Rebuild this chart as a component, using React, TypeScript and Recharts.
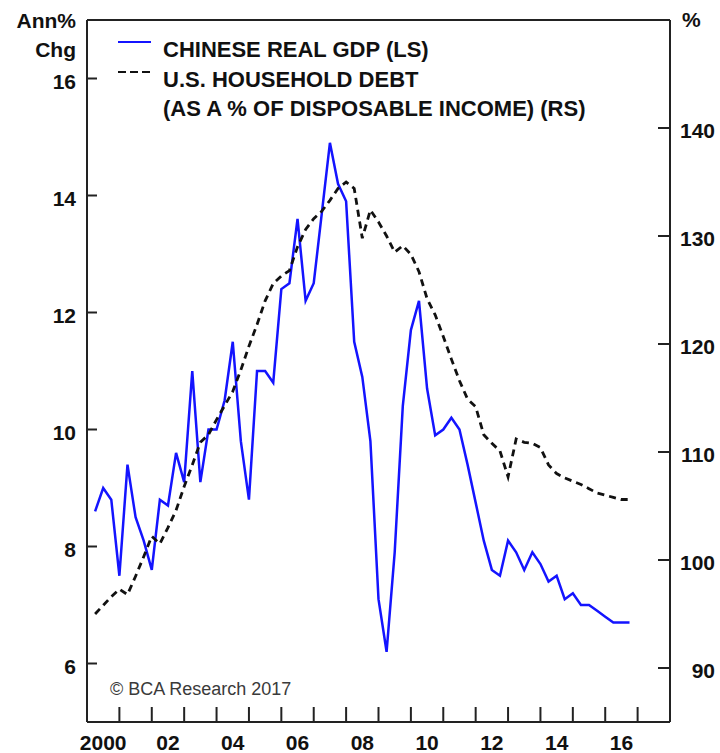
import { Line, LineChart, ReferenceLine, XAxis, YAxis } from "recharts";

// quarterly points, first one plotted at end of 2000Q1
const FIRST_QUARTER = 2000.25;
const QUARTER = 0.25;

// Chinese real GDP, annual % change (left scale)
const chineseGdp = [
  8.6, 9.0, 8.8, 7.5, 9.4, 8.5, 8.1, 7.6, 8.8, 8.7, 9.6, 9.1, 11.0, 9.1, 10.0, 10.0,
  10.5, 11.5, 9.8, 8.8, 11.0, 11.0, 10.8, 12.4, 12.5, 13.6, 12.2, 12.5, 13.7, 14.9, 14.2, 13.9,
  11.5, 10.9, 9.8, 7.1, 6.2, 7.9, 10.4, 11.7, 12.2, 10.7, 9.9, 10.0, 10.2, 10.0, 9.4, 8.75,
  8.1, 7.6, 7.5, 8.1, 7.9, 7.6, 7.9, 7.7, 7.4, 7.5, 7.1, 7.2, 7.0, 7.0, 6.9, 6.8,
  6.7, 6.7, 6.7,
];

// U.S. household debt as % of disposable income (right scale)
const usHouseholdDebt = [
  95.0, 95.8, 96.6, 97.3, 96.8, 98.5, 100.3, 102.2, 101.5, 103.0, 104.6, 106.8, 108.8, 110.9, 111.6, 113.0,
  114.3, 115.6, 117.6, 119.8, 121.8, 124.0, 125.6, 126.3, 126.8, 129.0, 130.6, 131.6, 132.3, 133.3, 134.4, 135.0,
  134.4, 129.8, 132.4, 131.3, 130.0, 128.5, 129.1, 128.3, 126.7, 124.2, 122.7, 120.7, 118.6, 116.6, 114.9, 114.2,
  111.6, 110.8, 110.1, 107.7, 111.2, 110.9, 110.8, 110.4, 108.8, 108.0, 107.6, 107.3, 107.0, 106.6, 106.2, 106.0,
  105.8, 105.6, 105.6,
];

const tickYears = [2001, 2002, 2003, 2004, 2005, 2006, 2007, 2008, 2009, 2010, 2011, 2012, 2013, 2014, 2015, 2016, 2017];
const labelYears = [2000, 2002, 2004, 2006, 2008, 2010, 2012, 2014, 2016];
const yearLabels = ["2000", "02", "04", "06", "08", "10", "12", "14", "16"];
const leftTicks = [6, 8, 10, 12, 14, 16];
const rightTicks = [90, 100, 110, 120, 130, 140];

const data = chineseGdp.map((gdp, i) => ({
  t: FIRST_QUARTER + i * QUARTER,
  gdp,
  debt: usHouseholdDebt[i],
}));

const xTicks = [...tickYears, ...labelYears.map((y) => y + 0.5)].sort((a, b) => a - b);

const FONT = "'Liberation Sans', Arial, sans-serif";
const INK = "#111";
const FRAME = "#222";
const BLUE = "#1414ff";

function XTick({ x, y, payload }: any) {
  const v = payload.value;
  if (Number.isInteger(v)) {
    return <line x1={x} x2={x} y1={y} y2={y - 15} stroke={FRAME} strokeWidth={2} />;
  }
  const i = labelYears.indexOf(v - 0.5);
  return (
    <text x={x} y={y + 28} textAnchor="middle" fontFamily={FONT} fontSize={21} fontWeight="bold" fill={INK}>
      {yearLabels[i]}
    </text>
  );
}

function LeftTick({ x, y, payload }: any) {
  return (
    <g>
      <line x1={x} x2={x + 10} y1={y} y2={y} stroke={FRAME} strokeWidth={2} />
      <text x={x - 11} y={y + 10} textAnchor="end" fontFamily={FONT} fontSize={21} fontWeight="bold" fill={INK}>
        {payload.value}
      </text>
    </g>
  );
}

function RightTick({ x, y, payload }: any) {
  return (
    <g>
      <line x1={x - 12} x2={x} y1={y} y2={y} stroke={FRAME} strokeWidth={2} />
      <text x={x + 45} y={y + 10} textAnchor="end" fontFamily={FONT} fontSize={21} fontWeight="bold" fill={INK}>
        {payload.value}
      </text>
    </g>
  );
}

export default function App() {
  const axisLine = { stroke: FRAME, strokeWidth: 2 };
  return (
    <div style={{ position: "absolute", left: 0, top: 0, width: 720, height: 753, background: "#fff" }}>
      <LineChart width={720} height={753} data={data} margin={{ top: 20, right: 0, bottom: 0, left: 0 }}>
        <XAxis
          dataKey="t"
          type="number"
          domain={[2000, 2018]}
          ticks={xTicks}
          interval={0}
          allowDataOverflow
          height={31}
          tickSize={0}
          tickMargin={0}
          axisLine={axisLine}
          tick={<XTick />}
        />
        <YAxis
          yAxisId="left"
          orientation="left"
          domain={[5, 17]}
          ticks={leftTicks}
          interval={0}
          width={87}
          tickSize={0}
          tickMargin={0}
          axisLine={axisLine}
          tick={<LeftTick />}
        />
        <YAxis
          yAxisId="right"
          orientation="right"
          domain={[85, 150]}
          ticks={rightTicks}
          interval={0}
          width={50}
          tickSize={0}
          tickMargin={0}
          axisLine={axisLine}
          tick={<RightTick />}
        />
        <ReferenceLine yAxisId="left" y={17} stroke={FRAME} strokeWidth={2} />
        <Line
          yAxisId="left"
          type="linear"
          dataKey="gdp"
          stroke={BLUE}
          strokeWidth={2.5}
          dot={false}
          isAnimationActive={false}
        />
        <Line
          yAxisId="right"
          type="linear"
          dataKey="debt"
          stroke="#111"
          strokeWidth={2.8}
          strokeDasharray="7 5"
          dot={false}
          isAnimationActive={false}
        />
      </LineChart>
      <svg
        width={720}
        height={753}
        style={{ position: "absolute", left: 0, top: 0, pointerEvents: "none" }}
        fontFamily={FONT}
        fontWeight="bold"
        fill={INK}
      >
        <text x={76} y={28} textAnchor="end" fontSize={21}>Ann%</text>
        <text x={76} y={57} textAnchor="end" fontSize={21}>Chg</text>
        <text x={682} y={27} fontSize={21}>%</text>
        <line x1={118} x2={151} y1={42} y2={42} stroke={BLUE} strokeWidth={2} />
        <line x1={118} x2={151} y1={72} y2={72} stroke="#111" strokeWidth={2} strokeDasharray="8 4" />
        <text x={163} y={57} fontSize={22}>CHINESE REAL GDP (LS)</text>
        <text x={163} y={87} fontSize={22}>U.S. HOUSEHOLD DEBT</text>
        <text x={163} y={116} fontSize={22}>(AS A % OF DISPOSABLE INCOME) (RS)</text>
        <text x={110} y={695} fontSize={18} fontWeight="normal" fill="#3a3a3a">© BCA Research 2017</text>
      </svg>
    </div>
  );
}
